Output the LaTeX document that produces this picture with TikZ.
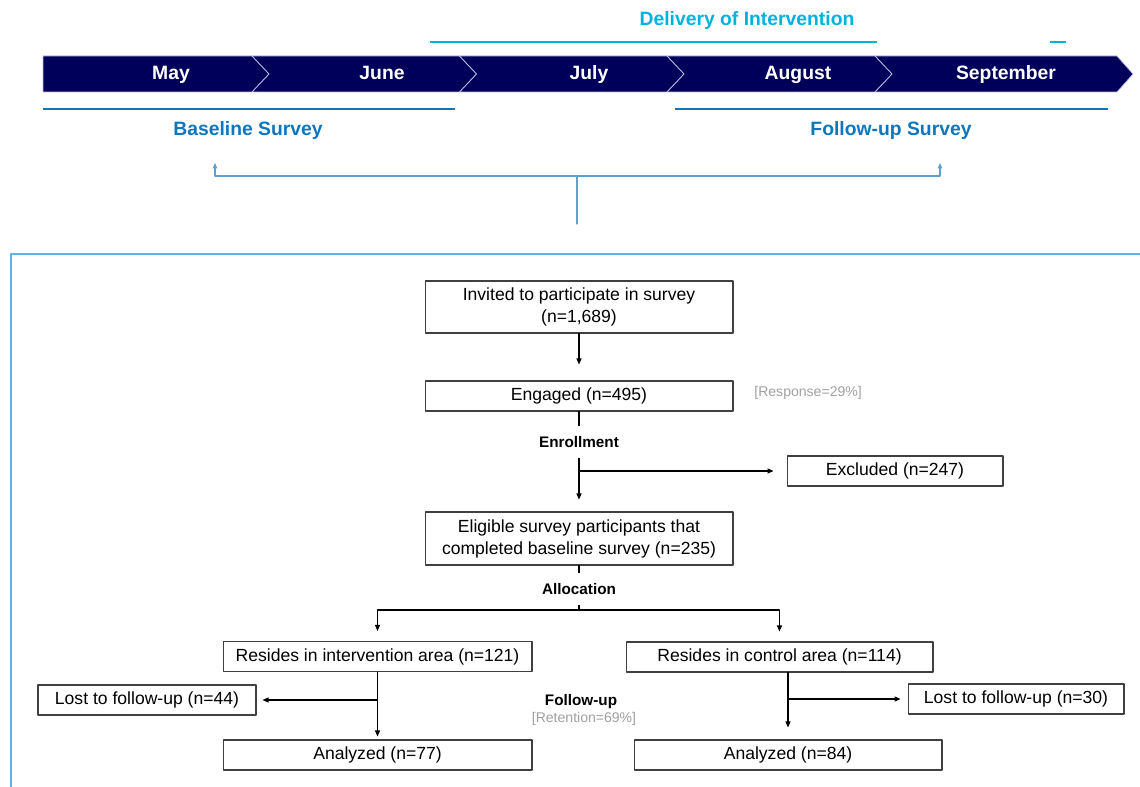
\documentclass[tikz,border=0pt]{standalone}
\usepackage{fontspec}
\setmainfont{Liberation Sans}
\usetikzlibrary{arrows.meta}
\definecolor{navy}{RGB}{0,0,90}
\definecolor{edgelav}{RGB}{190,190,225}
\definecolor{delivcyan}{RGB}{0,178,220}
\definecolor{surveyblue}{RGB}{14,118,188}
\definecolor{linkblue}{RGB}{95,160,205}
\definecolor{frameblue}{RGB}{100,178,225}
\definecolor{boxgray}{RGB}{64,64,64}
\definecolor{notegray}{RGB}{160,160,160}

\begin{document}
\begin{tikzpicture}[x=0.02cm,y=-0.02cm,line cap=round,line join=round,
  box/.style={draw=boxgray,line width=0.6pt,inner sep=0pt,align=center,
    font=\fontsize{10}{12.5}\selectfont},
  month/.style={text=white,font=\bfseries\fontsize{11}{13}\selectfont,text height=1.6ex,text depth=0.45ex},
  survey/.style={text=surveyblue,font=\bfseries\fontsize{11}{13}\selectfont,text height=1.6ex,text depth=0.45ex},
  stage/.style={font=\bfseries\fontsize{8.7}{10}\selectfont,minimum height=0.64cm,inner sep=0pt},
  note/.style={text=notegray,font=\fontsize{8}{9.5}\selectfont,inner sep=0pt},
  arr/.style={line width=0.6pt,-{Triangle[length=1.2mm,width=1mm]}},
  uparr/.style={linkblue,line width=0.6pt,-{Triangle[length=1.1mm,width=0.9mm]}}]
\useasboundingbox (0,0) rectangle (1140,787);

% timeline bar with chevron separators
\filldraw[fill=navy,draw=edgelav,line width=0.4pt]
  (43,56) -- (1117,56) -- (1133,74) -- (1117,92) -- (43,92) -- cycle;
\foreach \sx in {252,459.5,667,875}
  \draw[edgelav,line width=0.5pt] (\sx,56) -- (\sx+17,74) -- (\sx,92);

\node[month] (may) at (171,74) {May};
\node[month] (june) at (382,74) {June};
\node[month] (july) at (589,74) {July};
\node[month] (aug) at (798,74) {August};
\node[month] (sep) at (1006,74) {September};

% delivery and survey periods
\node[survey,text=delivcyan] (deliv) at (747,20) {Delivery of Intervention};
\draw[delivcyan,line width=1.7pt,line cap=butt] (430,42) -- (877,42);
\draw[delivcyan,line width=1.7pt,line cap=butt] (1050,42) -- (1066,42);
\draw[surveyblue,line width=1.7pt,line cap=butt] (43,109) -- (455,109);
\draw[surveyblue,line width=1.7pt,line cap=butt] (675,109) -- (1108,109);
\node[survey] (base) at (248,130) {Baseline Survey};
\node[survey] (follow) at (891,130) {Follow-up Survey};

% link from the flow chart up to both surveys
\coordinate (linkfoot) at (577,224);
\coordinate (linkjoin) at (577,176);
\coordinate (baseTip) at (215,163);
\coordinate (followTip) at (940,163);
\draw[linkblue,line width=0.6pt] (linkfoot) -- (linkjoin);
\draw[uparr] (linkjoin) -| (baseTip);
\draw[uparr] (linkjoin) -| (followTip);

% frame round the flow chart
\draw[frameblue,line width=0.8pt] (11,787) -- (11,254) -- (1140,254);

% flow chart boxes
\node[box,minimum width=6.16cm,minimum height=1.04cm] (invited) at (579,307)
  {Invited to participate in survey\\(n=1,689)};
\node[box,minimum width=6.16cm,minimum height=0.6cm] (engaged) at (579,396) {Engaged (n=495)};
\node[note,anchor=west] (response) at (754,393) {[Response=29\%]};
\node[stage] (enroll) at (579,442) {Enrollment};
\node[box,minimum width=4.32cm,minimum height=0.6cm] (excluded) at (895,471) {Excluded (n=247)};
\node[box,minimum width=6.16cm,minimum height=1.06cm] (eligible) at (579,538.5)
  {Eligible survey participants that\\completed baseline survey (n=235)};
\node[stage] (alloc) at (579,589) {Allocation};
\node[box,minimum width=6.18cm,minimum height=0.6cm] (interv) at (377.5,656.5) {Resides in intervention area (n=121)};
\node[box,minimum width=6.14cm,minimum height=0.6cm] (control) at (779.5,657) {Resides in control area (n=114)};
\node[box,minimum width=4.36cm,minimum height=0.6cm] (lostA) at (147,700) {Lost to follow-up (n=44)};
\node[box,minimum width=4.32cm,minimum height=0.6cm] (lostB) at (1016,699) {Lost to follow-up (n=30)};
\node[box,minimum width=6.18cm,minimum height=0.6cm] (analyzedA) at (377.5,755) {Analyzed (n=77)};
\node[box,minimum width=6.16cm,minimum height=0.6cm] (analyzedB) at (788,755) {Analyzed (n=84)};
\node[stage,minimum height=0pt] (followup) at (581,702) {Follow-up};
\node[note] (retention) at (584,719) {[Retention=69\%]};

% connectors
\draw[arr,shorten >=0.32cm] (invited) -- (engaged);
\draw[line width=0.6pt] (engaged) -- (enroll);
\draw[arr,shorten >=0.24cm] (enroll.south) -- (eligible.north);
\draw[arr,shorten >=0.26cm] (enroll.south |- excluded.west) -- (excluded.west);
\draw[line width=0.6pt] (eligible) -- (alloc);
\coordinate (split) at (alloc.south |- 0,610);
\draw[line width=0.6pt] (alloc.south) -- (split);
\draw[arr,shorten >=0.2cm] (split) -| (interv.north);
\draw[arr,shorten >=0.2cm] (split) -| (control.north);
\draw[arr,shorten >=0.06cm] (interv.south) -- (analyzedA.north);
\draw[arr,shorten >=0.12cm] (interv.south |- lostA.east) -- (lostA.east);
\draw[arr,shorten >=0.24cm] (analyzedB.north |- control.south) -- (analyzedB.north);
\draw[arr,shorten >=0.14cm] (analyzedB.north |- lostB.west) -- (lostB.west);

\end{tikzpicture}
\end{document}
